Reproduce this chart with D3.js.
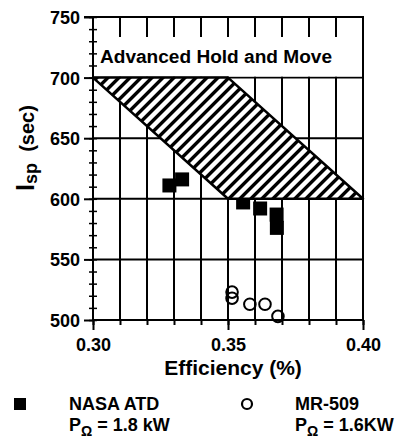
<!DOCTYPE html>
<html>
<head>
<meta charset="utf-8">
<script src="https://cdn.jsdelivr.net/npm/d3@7"></script>
<style>
body { margin: 0; background: #fff; }
svg { display: block; font-family: 'Liberation Sans', Arial, Helvetica, sans-serif; font-weight: bold; }
</style>
</head>
<body>
<svg width="401" height="445"></svg>
<script>
// data
const nasaEff = [0.3283, 0.3330, 0.3556, 0.3619, 0.3680, 0.3681]
const nasaIsp = [611, 616, 597, 592, 587, 576]
const mrEff = [0.3515, 0.3515, 0.3581, 0.3637, 0.3685]
const mrIsp = [523, 518, 513, 513, 503]
// advanced hold and move region (efficiency, Isp)
const regionEff = [0.30, 0.35, 0.40, 0.35]
const regionIsp = [700, 700, 600, 600]
const xTicks = [0.30, 0.35, 0.40]
const xGrid = d3.range(0.30, 0.4001, 0.01)
const yTicks = [500, 550, 600, 650, 700, 750]
const yMinor = d3.range(500, 751, 10)

const svg = d3.select('svg')
const x = d3.scaleLinear().domain([0.30, 0.40]).range([93, 363])
const y = d3.scaleLinear().domain([500, 750]).range([320, 17])

const g = svg.append('g')

// grid
g.selectAll('line.vgrid').data(xGrid).enter().append('line')
	.attr('x1', d => x(d)).attr('x2', d => x(d))
	.attr('y1', y(750)).attr('y2', y(500))
	.attr('stroke', '#000').attr('stroke-width', 2)
g.selectAll('line.hgrid').data(yTicks).enter().append('line')
	.attr('x1', x(0.30)).attr('x2', x(0.40))
	.attr('y1', d => y(d)).attr('y2', d => y(d))
	.attr('stroke', '#000').attr('stroke-width', 2)

// label box
g.append('rect')
	.attr('x', x(0.30) + 1).attr('width', x(0.40) - x(0.30) - 2)
	.attr('y', 37).attr('height', y(700) - 38)
	.attr('fill', '#fff')
g.append('text')
	.attr('x', 100).attr('y', 63)
	.attr('font-size', 18)
	.attr('textLength', 232).attr('lengthAdjust', 'spacingAndGlyphs')
	.text('Advanced Hold and Move')

// NASA ATD squares
const sq = 14
g.selectAll('rect.nasa').data(nasaEff).enter().append('rect')
	.attr('x', (d, i) => x(d) - sq / 2)
	.attr('y', (d, i) => y(nasaIsp[i]) - sq / 2)
	.attr('width', sq).attr('height', sq)
	.attr('fill', '#000')

// hatched region: white fill, "/" stripes clipped to the polygon
const poly = regionEff.map((d, i) => [x(d), y(regionIsp[i])])
const polyD = d3.line()(poly) + 'Z'
svg.append('defs').append('clipPath').attr('id', 'regionClip')
	.append('path').attr('d', polyD)
g.append('path').attr('d', polyD).attr('fill', '#fff')
const cMin = d3.min(poly, p => p[0] + p[1])
const cMax = d3.max(poly, p => p[0] + p[1])
const stripes = d3.range(cMin + 4, cMax + 11, 11)
g.append('g').attr('clip-path', 'url(#regionClip)')
	.selectAll('line').data(stripes).enter().append('line')
	.attr('x1', c => c - 400).attr('y1', 400)
	.attr('x2', c => c).attr('y2', 0)
	.attr('stroke', '#000').attr('stroke-width', 3.4)
g.append('path')
	.attr('d', polyD)
	.attr('fill', 'none')
	.attr('stroke', '#000').attr('stroke-width', 2.5)
	.attr('stroke-linejoin', 'round')

// MR-509 circles
g.selectAll('circle.mr').data(mrEff).enter().append('circle')
	.attr('cx', d => x(d))
	.attr('cy', (d, i) => y(mrIsp[i]))
	.attr('r', 5.8)
	.attr('fill', 'none').attr('stroke', '#000').attr('stroke-width', 2)

// frame
g.append('rect')
	.attr('x', x(0.30)).attr('y', y(750))
	.attr('width', x(0.40) - x(0.30)).attr('height', y(500) - y(750))
	.attr('fill', 'none').attr('stroke', '#000').attr('stroke-width', 2)

// y axis
const yMajor = g.append('g').attr('transform', `translate(${x(0.30)},0)`)
	.call(d3.axisLeft(y).tickValues(yTicks).tickSizeInner(9).tickSizeOuter(0).tickPadding(4))
yMajor.select('.domain').remove()
yMajor.selectAll('line').attr('stroke-width', 2)
yMajor.selectAll('text')
	.attr('font-size', 18).attr('font-family', 'Liberation Sans, Arial, sans-serif').attr('font-weight', 'bold')
	.attr('fill', '#000').attr('dy', '0.36em')
const yMin = g.append('g').attr('transform', `translate(${x(0.30) + 4},0)`)
	.call(d3.axisLeft(y).tickValues(yMinor).tickSize(8).tickFormat(''))
yMin.select('.domain').remove()
yMin.selectAll('line').attr('stroke-width', 1.5)

// x axis
const xMin = g.append('g').attr('transform', `translate(0,${y(500)})`)
	.call(d3.axisBottom(x).tickValues(xGrid).tickSize(5).tickFormat(''))
xMin.select('.domain').remove()
xMin.selectAll('line').attr('stroke-width', 2)
const xMajor = g.append('g').attr('transform', `translate(0,${y(500)})`)
	.call(d3.axisBottom(x).tickValues(xTicks).tickSizeInner(10).tickSizeOuter(0).tickPadding(8).tickFormat(d3.format('.2f')))
xMajor.select('.domain').remove()
xMajor.selectAll('line').attr('stroke-width', 2)
xMajor.selectAll('text')
	.attr('font-size', 18).attr('font-family', 'Liberation Sans, Arial, sans-serif').attr('font-weight', 'bold')
	.attr('fill', '#000').attr('dy', '0.72em')
g.append('line').attr('x1', 84).attr('x2', x(0.30)).attr('y1', y(750)).attr('y2', y(750))
	.attr('stroke', '#000').attr('stroke-width', 2)

// axis titles
svg.append('text')
	.attr('x', 233).attr('y', 375)
	.attr('text-anchor', 'middle').attr('font-size', 21)
	.text('Efficiency (%)')
const yl = svg.append('text')
	.attr('transform', 'translate(34,148) rotate(-90)')
	.attr('text-anchor', 'middle').attr('font-size', 20)
yl.append('tspan').attr('font-size', 25).text('I')
yl.append('tspan').attr('font-size', 18).attr('dy', 3).text('sp')
yl.append('tspan').attr('dy', -3).text('\u00a0 (sec)')

// legend
const leg = svg.append('g')
leg.append('rect').attr('x', 14).attr('y', 398).attr('width', 12).attr('height', 12).attr('fill', '#000')
leg.append('circle').attr('cx', 247).attr('cy', 404).attr('r', 5).attr('fill', 'none')
	.attr('stroke', '#000').attr('stroke-width', 2.2)
const legText = [
	{ x: 69, name: 'NASA ATD', p: '1.8 kW' },
	{ x: 295, name: 'MR-509', p: '1.6KW' }
]
legText.forEach(d => {
	leg.append('text').attr('x', d.x).attr('y', 410).attr('font-size', 18).text(d.name)
	const t = leg.append('text').attr('x', d.x).attr('y', 431).attr('font-size', 18)
	t.append('tspan').text('P')
	t.append('tspan').attr('font-size', 14).attr('dy', 5).text('\u03a9')
	t.append('tspan').attr('dy', -5).text(' = ' + d.p)
})
</script>
</body>
</html>
